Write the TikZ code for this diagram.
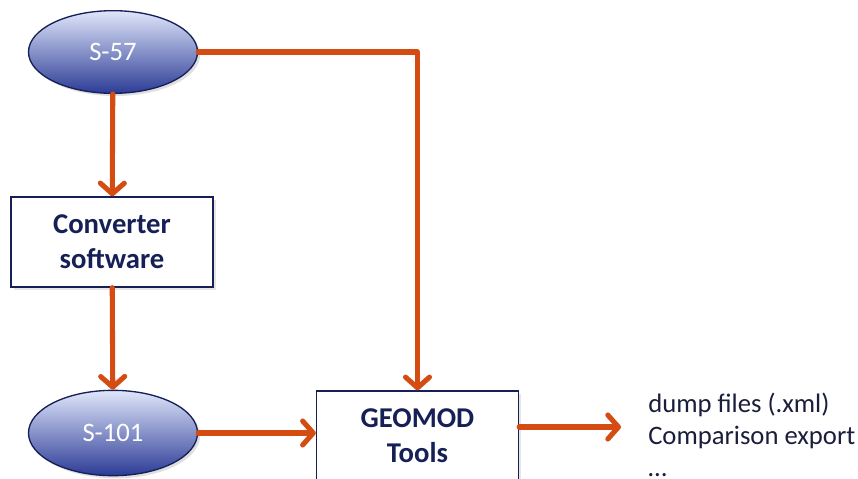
\documentclass[tikz,border=0pt]{standalone}
\usepackage{fontspec}
\setmainfont{Carlito}
\usepackage{tikz}
\usetikzlibrary{arrows.meta,shapes,positioning,shadows}
\usepackage{xcolor}
\definecolor{gmorange}{RGB}{212,76,18}
\definecolor{gmnavy}{RGB}{22,32,86}
\definecolor{gmtext}{RGB}{26,30,58}
\definecolor{gmtop}{RGB}{224,230,250}
\definecolor{gmbottom}{RGB}{44,60,150}
\tikzstyle{source} = [ellipse, minimum width=126.75pt, minimum height=62pt, inner sep=0pt, draw=gmnavy, line width=1pt, top color=gmtop, bottom color=gmbottom, text=white, font=\fontsize{20}{24}\selectfont, drop shadow={opacity=0.25, shadow xshift=2pt, shadow yshift=-2pt}]
\tikzstyle{tool} = [rectangle, minimum width=151.5pt, minimum height=67.5pt, inner sep=0pt, text centered, align=center, draw=gmnavy, fill=white, line width=1pt, text=gmnavy, font=\bfseries\fontsize{21.5}{26}\selectfont, drop shadow={opacity=0.2, shadow xshift=2pt, shadow yshift=-2pt}]
\tikzstyle{arrow} = [line width=3.8pt, line cap=round, line join=round, -{Straight Barb[length=8pt, width=18pt, line cap=round, line join=round]}, color=gmorange]

\begin{document}
\begin{tikzpicture}[x=0.75pt, y=-0.75pt]
\clip (0,0) rectangle (858,479);
% Source formats
\node (s57) [source] at (113,52) {S-57};
\node (conv) [tool] at (112,242) {Converter\\software};
\node (s101) [source, minimum height=64pt] at (113,433) {S-101};
\node (geomod) [tool] at (417.5,436) {GEOMOD\\Tools};
\coordinate (out) at (621,427);
\node (results) [anchor=west, inner sep=0pt, align=left, text=gmtext, font=\fontsize{20}{24}\selectfont] at (648,435) {dump files (.xml)\\Comparison export\\\dots};

% Arrows
\draw[arrow] (s57) -- (conv);
\draw[arrow] (conv) -- (s101);
\draw[arrow] (s57.east) -| (geomod.north);
\draw[arrow] (s101.east) -- (geomod.west |- s101.east);
\draw[arrow] (geomod.east |- out) -- (out);
\end{tikzpicture}
\end{document}
